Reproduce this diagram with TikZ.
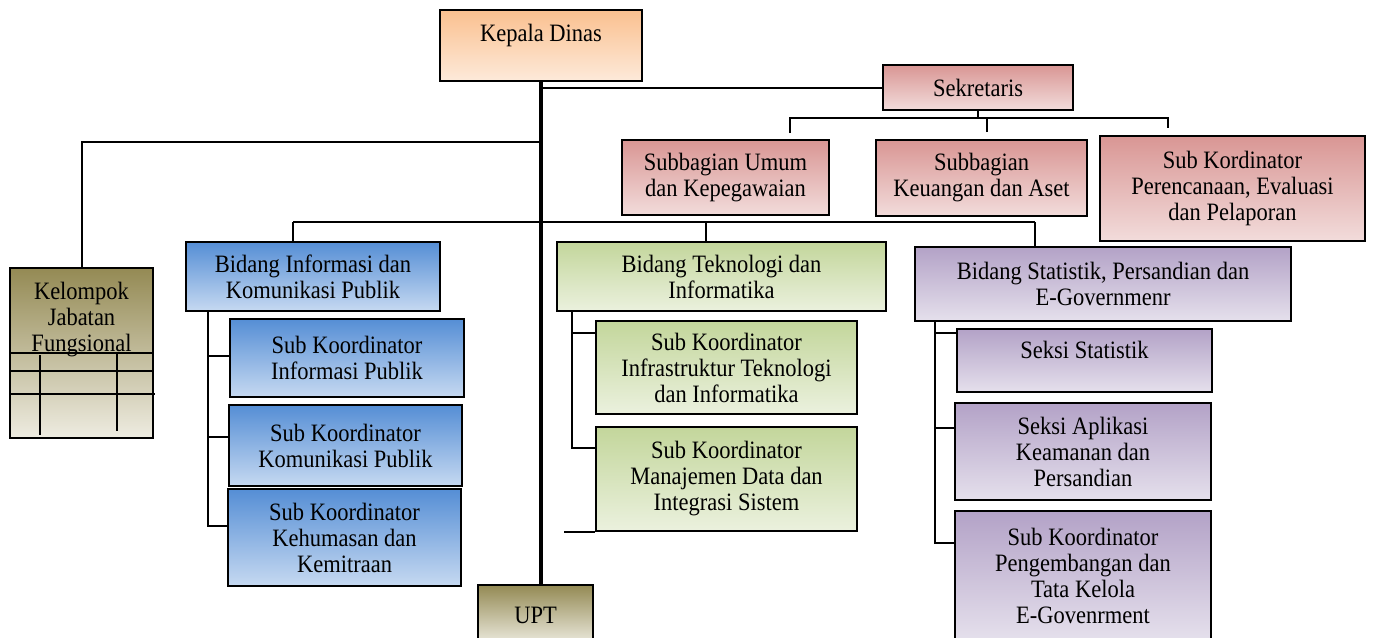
\documentclass[tikz,border=0pt]{standalone}
\usepackage{fontspec}
\setmainfont[FakeStretch=0.9]{Liberation Serif}
\usetikzlibrary{positioning,calc}

\definecolor{orangetop}{HTML}{FAC08F}
\definecolor{orangebot}{HTML}{FDEADA}
\definecolor{redtop}{HTML}{D99694}
\definecolor{redbot}{HTML}{F2DCDB}
\definecolor{olivetop}{HTML}{948A54}
\definecolor{olivebot}{HTML}{EEECE1}
\definecolor{bluetop}{HTML}{558ED5}
\definecolor{bluebot}{HTML}{C6D9F1}
\definecolor{greentop}{HTML}{C3D69B}
\definecolor{greenbot}{HTML}{EBF1DE}
\definecolor{purpletop}{HTML}{B3A2C7}
\definecolor{purplebot}{HTML}{E5E0EC}

\tikzset{
  orgbox/.style={draw=black, line width=1pt, align=center, inner sep=2pt,
    font=\fontsize{12.5}{13}\selectfont},
  kepalabox/.style={orgbox, top color=orangetop, bottom color=orangebot},
  sekbox/.style={orgbox, top color=redtop, bottom color=redbot},
  olivebox/.style={orgbox, top color=olivetop, bottom color=olivebot},
  infobox/.style={orgbox, top color=bluetop, bottom color=bluebot},
  teknobox/.style={orgbox, top color=greentop, bottom color=greenbot},
  statbox/.style={orgbox, top color=purpletop, bottom color=purplebot},
  link/.style={line width=1pt},
  trunk/.style={line width=1.6pt}
}

\begin{document}
\begin{tikzpicture}[x=0.5pt, y=-0.5pt]
    \useasboundingbox (0,0) rectangle (1374,637);

    % top level
    \node[kepalabox, minimum width=101pt, minimum height=35.5pt, text depth=12.2pt] (kepala) at (541,45.5) {Kepala Dinas};
    \node[sekbox, minimum width=95pt, minimum height=22.5pt] (sekretaris) at (978,87.5) {Sekretaris};
    \node[olivebox, minimum width=57.5pt, minimum height=30pt] (upt) at (535.5,615) {UPT};
    \node[olivebox, minimum width=71.5pt, minimum height=85pt, text depth=36.2pt] (kelompok) at (81.5,353) {Kelompok\\Jabatan\\Fungsional};

    % sekretariat
    \node[sekbox, minimum width=103.5pt, minimum height=37.5pt] (umum) at (725.5,177.5) {Subbagian Umum\\dan Kepegawaian};
    \node[sekbox, minimum width=105.5pt, minimum height=38pt] (keuangan) at (981.5,178) {Subbagian\\Keuangan dan Aset};
    \node[sekbox, minimum width=132.5pt, minimum height=52.5pt] (perencanaan) at (1232.5,188.5) {Sub Kordinator\\Perencanaan, Evaluasi\\dan Pelaporan};

    % bidang informasi
    \node[infobox, minimum width=127pt, minimum height=34.5pt] (informasi) at (313,276.5) {Bidang Informasi dan\\Komunikasi Publik};
    \node[infobox, minimum width=117pt, minimum height=39pt] (infopublik) at (347,358) {Sub Koordinator\\Informasi Publik};
    \node[infobox, minimum width=116.5pt, minimum height=40.5pt] (komunikasi) at (345.5,445.5) {Sub Koordinator\\Komunikasi Publik};
    \node[infobox, minimum width=116.5pt, minimum height=48.5pt] (kehumasan) at (344.5,537.5) {Sub Koordinator\\Kehumasan dan\\Kemitraan};

    % bidang teknologi
    \node[teknobox, minimum width=164.5pt, minimum height=34.5pt] (teknologi) at (721.5,276.5) {Bidang Teknologi dan\\Informatika};
    \node[teknobox, minimum width=130.5pt, minimum height=46.5pt] (infrastruktur) at (726.5,367.5) {Sub Koordinator\\Infrastruktur Teknologi\\dan Informatika};
    \node[teknobox, minimum width=130.5pt, minimum height=52pt] (manajemen) at (726.5,479) {Sub Koordinator\\Manajemen Data dan\\Integrasi Sistem};

    % bidang statistik
    \node[statbox, minimum width=188pt, minimum height=37pt] (statistik) at (1103,284) {Bidang Statistik, Persandian dan\\E-Governmenr};
    \node[statbox, minimum width=127.5pt, minimum height=31.5pt, text depth=10.2pt] (seksistat) at (1084.5,360.5) {Seksi Statistik};
    \node[statbox, minimum width=128pt, minimum height=48.5pt] (aplikasi) at (1083,451.5) {Seksi Aplikasi\\Keamanan dan\\Persandian};
    \node[statbox, minimum width=128pt, minimum height=64.5pt] (pengembangan) at (1083,575.5) {Sub Koordinator\\Pengembangan dan\\Tata Kelola\\E-Govenrment};

    % grid inside kelompok
    \draw[link] (10,353) -- (153,353);
    \draw[link] (10,371) -- (153,371);
    \draw[link] (10,394) -- (155,394);
    \draw[link] (40,355) -- (40,435);
    \draw[link] (117,354) -- (117,431);

    % trunk and branches
    \draw[trunk] (kepala.south) -- (kepala.south |- upt.north);
    \draw[link] (kepala.south |- sekretaris.west) -- (sekretaris.west);
    \draw[link] (kepala.south |- 0,142) -| (kelompok.north);

    % sekretariat bus
    \coordinate (su) at (790,133);
    \coordinate (sk) at (987,132);
    \coordinate (sp) at (1168,128);
    \draw[link] (sekretaris.south) -- (sekretaris.south |- 0,118);
    \draw[link] (su) |- (sp |- 0,118) -- (sp);
    \draw[link] (sk) -- (sk |- 0,118);

    % bidang bus
    \coordinate (bl) at (293,222);
    \coordinate (bm) at (706,222);
    \coordinate (br) at (1035,222);
    \draw[link] (bl) -- (br);
    \draw[link] (bl) -- (bl |- informasi.north);
    \draw[link] (bm) -- (bm |- teknologi.north);
    \draw[link] (br) -- (br |- statistik.north);

    % informasi bus
    \coordinate (ib) at (208,311);
    \draw[link] (ib) |- ([yshift=6pt]kehumasan.west);
    \draw[link] (ib |- 0,356) -- (infopublik.west |- 0,356);
    \draw[link] (ib |- 0,437) -- (komunikasi.west |- 0,437);

    % teknologi bus
    \coordinate (tb) at (572,311);
    \draw[link] (tb) |- ([yshift=15.5pt]manajemen.west);
    \draw[link] (tb |- 0,333) -- (infrastruktur.west |- 0,333);
    \draw[link] ([xshift=-15.5pt]manajemen.south west) -- (manajemen.south west);

    % statistik bus
    \coordinate (stb) at (935,321);
    \draw[link] (stb) |- ([yshift=16.25pt]pengembangan.west);
    \draw[link] (stb |- 0,333) -- (seksistat.west |- 0,333);
    \draw[link] (stb |- 0,428) -- (aplikasi.west |- 0,428);
\end{tikzpicture}
\end{document}
